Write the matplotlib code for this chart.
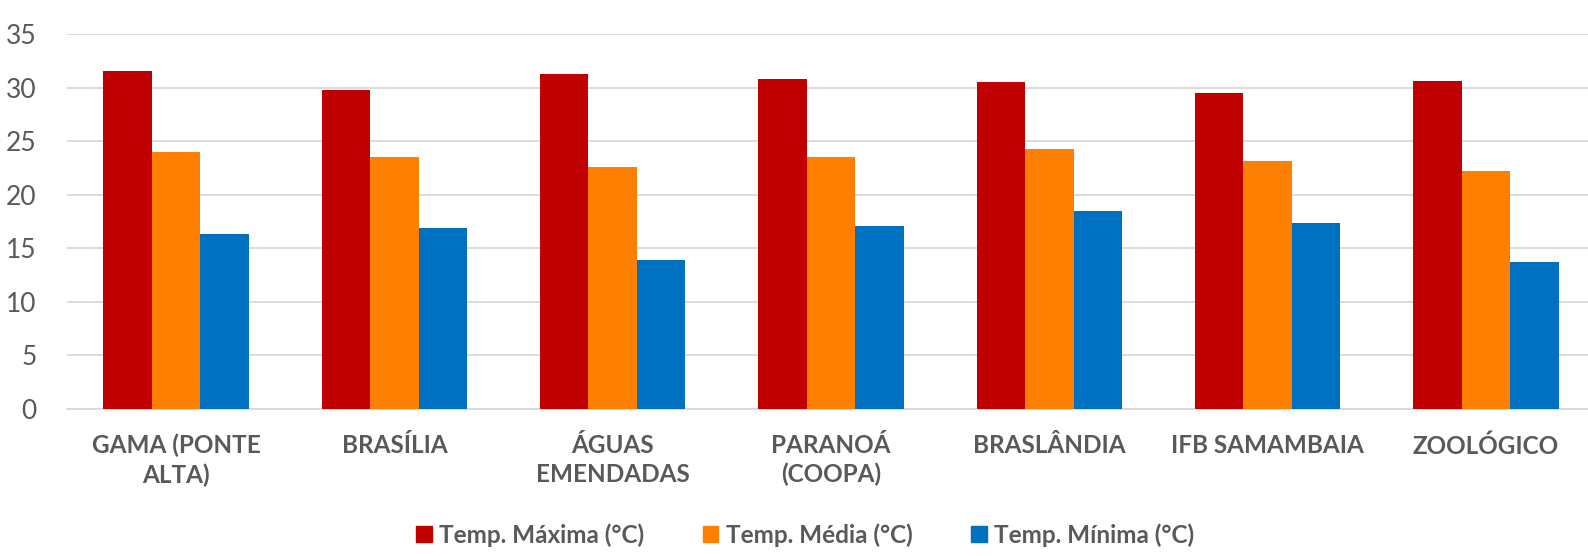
import numpy as np
import matplotlib
matplotlib.use("Agg")
import matplotlib.pyplot as plt
from matplotlib.patches import Patch

# estações e temperaturas (°C)
estacoes = ["GAMA (PONTE\nALTA)", "BRASÍLIA", "ÁGUAS\nEMENDADAS", "PARANOÁ\n(COOPA)",
            "BRASLÂNDIA", "IFB SAMAMBAIA", "ZOOLÓGICO"]
temp_max = [31.6, 29.8, 31.3, 30.8, 30.5, 29.5, 30.6]
temp_med = [24.0, 23.5, 22.6, 23.5, 24.3, 23.2, 22.2]
temp_min = [16.3, 16.9, 13.9, 17.1, 18.5, 17.4, 13.7]
series = ["Temp. Máxima (°C)", "Temp. Média (°C)", "Temp. Mínima (°C)"]
cores = ["#C00000", "#FF8000", "#0070C0"]

plt.rcParams['font.family'] = ['Lato', 'DejaVu Sans']
cinza = "#595959"

fig = plt.figure(figsize=(15.88, 5.56), dpi=100)
ax = fig.add_axes([67 / 1588, 147 / 556, (1595 - 67) / 1588, (409 - 34.3) / 556])

x = np.arange(len(estacoes))
w = 1 / 4.5
for i, (vals, nome, cor) in enumerate(zip([temp_max, temp_med, temp_min], series, cores)):
    ax.bar(x + (i - 1) * w, vals, width=w, color=cor, label=nome, zorder=3)

ax.set_xlim(-0.5, len(estacoes) - 0.5)
ax.set_ylim(0, 35)
ax.set_yticks(range(0, 36, 5))
ax.yaxis.grid(True, color="#D9D9D9", linewidth=1.3, zorder=0)
ax.set_axisbelow(True)
for s in ["top", "right", "left"]:
    ax.spines[s].set_visible(False)
ax.spines["bottom"].set_color("#D9D9D9")
ax.spines["bottom"].set_linewidth(1.3)
ax.tick_params(axis="both", length=0)
ax.tick_params(axis="y", labelsize=19, labelcolor=cinza, pad=22)
ax.set_xticks(x)
ax.set_xticklabels(estacoes, fontsize=17.5, fontweight="bold", color=cinza,
                   linespacing=1.3)
ax.tick_params(axis="x", pad=18)

handles = [Patch(color=c, label=n) for c, n in zip(cores, series)]
leg = fig.legend(handles=handles, loc="center", bbox_to_anchor=(805 / 1588, 1 - 535 / 556),
                 ncol=3, frameon=False, prop={"size": 17.5, "weight": "bold"},
                 labelcolor=cinza, handlelength=0.65, handleheight=0.65,
                 handletextpad=0.3, columnspacing=2.4)

fig.savefig("out.png", dpi=100)
